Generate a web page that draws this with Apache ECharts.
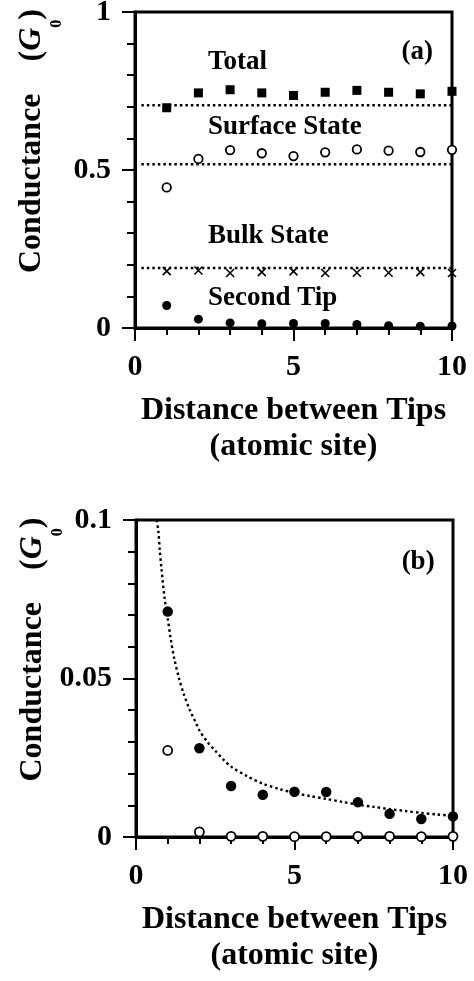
<!DOCTYPE html>
<html>
<head>
<meta charset="utf-8">
<script src="https://cdn.jsdelivr.net/npm/echarts@6/dist/echarts.min.js"></script>
<style>
  html, body { margin: 0; padding: 0; background: #fff; }
  #chart { width: 474px; height: 981px; }
</style>
</head>
<body>
<div id="chart"></div>
<script>
// Tip separation (atomic sites)
const sites = [1, 2, 3, 4, 5, 6, 7, 8, 9, 10];

// Panel (a): conductance components, in units of G0
const totalG   = [0.697, 0.744, 0.754, 0.744, 0.736, 0.746, 0.752, 0.746, 0.741, 0.749];
const surfaceG = [0.445, 0.535, 0.563, 0.553, 0.544, 0.556, 0.565, 0.561, 0.557, 0.564];
const bulkG    = [0.180, 0.182, 0.174, 0.177, 0.179, 0.174, 0.175, 0.175, 0.177, 0.174];
const secondTipG = [0.0711, 0.0280, 0.0161, 0.0133, 0.0143, 0.0142, 0.0110, 0.0073, 0.0057, 0.0065];

// Single-tip reference levels (dotted lines) in panel (a)
const refStart = 0.2;
const refEnd = 10;
const totalRef = 0.705;
const surfaceRef = 0.518;
const bulkRef = 0.190;

// Panel (b): open-circle component
const secondTipOpenG = [0.0273, 0.0016, 0.0002, 0.0002, 0.0001, 0.0001, 0.0002, 0.0002, 0.0001, 0.0002];

// Dotted decay curve in panel (b)
const curveX = [0.65, 0.7, 0.75, 0.8, 0.9, 1.0, 1.1, 1.2, 1.35, 1.5, 1.7, 1.9, 2.0, 2.25, 2.5, 2.75, 3.0, 3.5, 4.0, 4.5, 5.0, 5.5, 6.0, 6.5, 7.0, 7.5, 8.0, 8.5, 9.0, 9.5, 10];
const curveY = [0.1000, 0.0970, 0.0905, 0.0850, 0.0755, 0.0690, 0.0622, 0.0567, 0.0503, 0.0453, 0.0400, 0.0358, 0.0336, 0.0300, 0.0272, 0.0245, 0.0222, 0.0192, 0.0168, 0.0152, 0.0139, 0.0129, 0.0120, 0.0111, 0.0102, 0.0095, 0.0088, 0.0082, 0.0076, 0.0071, 0.0067];

// Axis tick labels
const xTicks = [0, 5, 10];
const yTicksA = [0, 0.5, 1];
const yTicksB = [0, 0.05, 0.1];

const FONT = '"Liberation Serif", "Times New Roman", serif';
const pair = (xs, ys) => xs.map((x, i) => [x, ys[i]]);

const crossPath = 'path://M0,0L10,10M10,0L0,10';

function xAxisFor(gridIndex) {
  return {
    gridIndex: gridIndex,
    type: 'value',
    min: xTicks[0], max: xTicks[xTicks.length - 1], interval: xTicks[1] - xTicks[0],
    name: 'Distance between Tips\n(atomic site)',
    nameLocation: 'middle',
    nameGap: 65,
    nameMoveOverlap: false,
    nameTextStyle: { fontFamily: FONT, fontWeight: 'bold', fontSize: 32, color: '#000', lineHeight: 36 },
    axisLine: { onZero: false, lineStyle: { color: '#000', width: 3 } },
    axisTick: { inside: false, length: 13, lineStyle: { color: '#000', width: 2 } },
    minorTick: { show: true, splitNumber: 5, length: 7, lineStyle: { color: '#000', width: 2 } },
    axisLabel: { fontFamily: FONT, fontWeight: 'bold', fontSize: 30, color: '#000', margin: 24 },
    splitLine: { show: false }
  };
}

function yAxisFor(gridIndex, ticks) {
  return {
    gridIndex: gridIndex,
    type: 'value',
    min: ticks[0], max: ticks[ticks.length - 1], interval: ticks[1] - ticks[0],
    name: '{m|Conductance    (}{g|G}{s|0}{m|)}',
    nameLocation: 'middle',
    nameRotate: 90,
    nameGap: 70,
    nameMoveOverlap: false,
    nameTextStyle: {
      fontFamily: FONT, fontWeight: 'bold', fontSize: 32, color: '#000',
      padding: [0, 0, 0, 58],
      rich: {
        m: { fontFamily: FONT, fontWeight: 'bold', fontSize: 32, color: '#000' },
        g: { fontFamily: FONT, fontWeight: 'bold', fontStyle: 'italic', fontSize: 32, color: '#000' },
        s: { fontFamily: FONT, fontWeight: 'bold', fontSize: 16, color: '#000', padding: [50, 0, 0, 0] }
      }
    },
    axisLine: { onZero: false, lineStyle: { color: '#000', width: 3 } },
    axisTick: { inside: false, length: 13, lineStyle: { color: '#000', width: 2 } },
    minorTick: { show: true, splitNumber: 5, length: 8, lineStyle: { color: '#000', width: 2 } },
    axisLabel: { fontFamily: FONT, fontWeight: 'bold', fontSize: 30, color: '#000', margin: 24 },
    splitLine: { show: false }
  };
}

function dotted(name, data, xi, yi) {
  return {
    name: name, type: 'line', xAxisIndex: xi, yAxisIndex: yi,
    data: data, showSymbol: false, symbol: 'none', silent: true,
    lineStyle: { color: '#000', width: 2.4, type: [2.5, 3], opacity: 1 },
    z: 2
  };
}

function note(text, x, y, xi, yi, align) {
  return {
    type: 'scatter', xAxisIndex: xi, yAxisIndex: yi, silent: true,
    symbolSize: 0, data: [[x, y]],
    itemStyle: { opacity: 1 },
    label: {
      show: true, position: 'inside', formatter: text, align: align || 'left',
      fontFamily: FONT, fontWeight: 'bold', fontSize: 27, color: '#000', opacity: 1
    },
    z: 5
  };
}

function marks(name, data, xi, yi, symbol, size, style, z) {
  return {
    name: name, type: 'scatter', xAxisIndex: xi, yAxisIndex: yi,
    symbol: symbol, symbolSize: size, data: data,
    itemStyle: Object.assign({ opacity: 1 }, style), z: z || 3, clip: false
  };
}

const filled = { color: '#000' };
const hollow = { color: '#fff', borderColor: '#000', borderWidth: 1.8 };

const gridBase = {
  show: true, borderColor: '#000', borderWidth: 3, backgroundColor: 'transparent',
  containLabel: false, outerBoundsMode: 'none'
};

const option = {
  backgroundColor: '#fff',
  animation: false,
  grid: [
    Object.assign({ left: 135, top: 12, width: 317, height: 316 }, gridBase),
    Object.assign({ left: 136, top: 520, width: 317, height: 317 }, gridBase)
  ],
  xAxis: [xAxisFor(0), xAxisFor(1)],
  yAxis: [yAxisFor(0, yTicksA), yAxisFor(1, yTicksB)],
  series: [
    // panel (a)
    dotted('Total reference', [[refStart, totalRef], [refEnd, totalRef]], 0, 0),
    dotted('Surface reference', [[refStart, surfaceRef], [refEnd, surfaceRef]], 0, 0),
    dotted('Bulk reference', [[refStart, bulkRef], [refEnd, bulkRef]], 0, 0),
    marks('Total', pair(sites, totalG), 0, 0, 'rect', 9, filled),
    marks('Surface State', pair(sites, surfaceG), 0, 0, 'circle', 8.5, hollow),
    marks('Bulk State', pair(sites, bulkG), 0, 0, crossPath, 8,
      { color: 'none', borderColor: '#000', borderWidth: 1.6 }),
    marks('Second Tip', pair(sites, secondTipG), 0, 0, 'circle', 9, filled),
    note('Total', 2.3, 0.842, 0, 0),
    note('Surface State', 2.3, 0.636, 0, 0),
    note('Bulk State', 2.3, 0.291, 0, 0),
    note('Second Tip', 2.3, 0.095, 0, 0),
    note('(a)', 8.9, 0.873, 0, 0, 'center'),

    // panel (b)
    Object.assign(dotted('Decay curve', pair(curveX, curveY), 1, 1), { smooth: 0.3 }),
    marks('Second Tip (b)', pair(sites, secondTipG), 1, 1, 'circle', 10.5, filled),
    marks('Open (b)', pair(sites, secondTipOpenG), 1, 1, 'circle', 9, hollow, 4),
    note('(b)', 8.9, 0.0868, 1, 1, 'center')
  ]
};

const chart = echarts.init(document.getElementById('chart'), null, { renderer: 'canvas' });
chart.setOption(option);
</script>
</body>
</html>
